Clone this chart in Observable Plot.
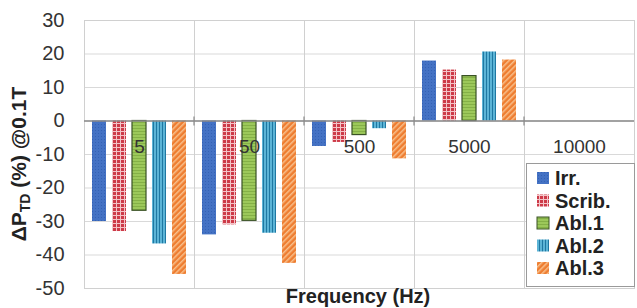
<!DOCTYPE html>
<html>
<head>
<meta charset="utf-8">
<script src="https://cdn.jsdelivr.net/npm/d3@7"></script>
<script src="https://cdn.jsdelivr.net/npm/@observablehq/plot@0.6"></script>
<style>
  html, body { margin: 0; padding: 0; background: #fff; }
  #chart { width: 637px; height: 308px; overflow: hidden; }
  svg { font-family: "Liberation Sans", Arial, sans-serif; }
</style>
</head>
<body>
<div id="chart"></div>
<script>
// ---- data ----
const freqs = ["5", "50", "500", "5000", "10000"];
const seriesNames = ["Irr.", "Scrib.", "Abl.1", "Abl.2", "Abl.3"];
const irr   = [-30, -34, -7.6, 17.9, null];
const scrib = [-33, -31, -6.4, 15.2, null];
const abl1  = [-26.8, -29.8, -4.2, 13.4, null];
const abl2  = [-36.7, -33.5, -2.3, 20.6, null];
const abl3  = [-45.8, -42.5, -11.3, 18.2, null];
const yTicks = [-50, -40, -30, -20, -10, 0, 10, 20, 30];
const yTitle = ["ΔP", "TD", " (%) @0.1T"];
const xTitle = "Frequency (Hz)";

const seriesValues = [irr, scrib, abl1, abl2, abl3];
const patternIds = ["pIrr", "pScrib", "pAbl1", "pAbl2", "pAbl3"];
const rows = [];
freqs.forEach((f, i) => seriesNames.forEach((s, j) => {
  const v = seriesValues[j][i];
  if (v != null) rows.push({freq: f, series: s, value: v});
}));

const plot = Plot.plot({
  width: 637,
  height: 308,
  marginLeft: 83,
  marginRight: 2,
  marginTop: 20,
  marginBottom: 20,
  style: {fontFamily: "Liberation Sans, Arial, sans-serif", fontSize: "20px", color: "#333"},
  fx: {domain: freqs, padding: 0, axis: null, label: null},
  x: {domain: seriesNames, paddingInner: 0.28, paddingOuter: 0.31, axis: null},
  y: {domain: [-50, 30], ticks: yTicks, tickSize: 0, tickPadding: 20, label: null, tickFormat: d => String(d)},
  color: {type: "ordinal", domain: seriesNames, range: patternIds.map(id => `url(#${id})`)},
  marks: [
    Plot.ruleY(yTicks, {stroke: "#d9d9d9", strokeWidth: 1}),
    Plot.frame({stroke: "#d0d0d0", strokeWidth: 1}),
    Plot.barY(rows, {fx: "freq", x: "series", y: "value", fill: "series"}),
    Plot.barY(rows.filter(d => d.series === "Abl.1"), {fx: "freq", x: "series", y: "value", fill: "none", stroke: "#3a5226", strokeWidth: 1.2}),
    Plot.ruleY([0], {stroke: "#8a8a8a", strokeWidth: 1.5}),
    Plot.text(freqs, {fx: d => d, y: 0, text: d => d, dy: 26, fill: "#333", fontSize: 19})
  ]
});

document.getElementById("chart").appendChild(plot);
const svg = d3.select(plot);

// ---- patterns ----
const defs = svg.insert("defs", ":first-child");
let p = defs.append("pattern").attr("id", "pIrr").attr("patternUnits", "userSpaceOnUse").attr("width", 3).attr("height", 3);
p.append("rect").attr("width", 3).attr("height", 3).attr("fill", "#4472c4");
p.append("rect").attr("x", 1).attr("y", 1).attr("width", 1).attr("height", 1).attr("fill", "#3462b4");

p = defs.append("pattern").attr("id", "pScrib").attr("patternUnits", "userSpaceOnUse").attr("width", 4).attr("height", 4);
p.append("rect").attr("width", 4).attr("height", 4).attr("fill", "#f3c3c7");
p.append("rect").attr("width", 3).attr("height", 3).attr("fill", "#cd3a48");

p = defs.append("pattern").attr("id", "pAbl1").attr("patternUnits", "userSpaceOnUse").attr("width", 4).attr("height", 3);
p.append("rect").attr("width", 4).attr("height", 3).attr("fill", "#9cc85a");
p.append("rect").attr("y", 2).attr("width", 4).attr("height", 1).attr("fill", "#84b046");

p = defs.append("pattern").attr("id", "pAbl2").attr("patternUnits", "userSpaceOnUse").attr("width", 3).attr("height", 4);
p.append("rect").attr("width", 3).attr("height", 4).attr("fill", "#5cb4d6");
p.append("rect").attr("x", 2).attr("width", 1).attr("height", 4).attr("fill", "#1f78a2");

p = defs.append("pattern").attr("id", "pAbl3").attr("patternUnits", "userSpaceOnUse").attr("width", 4).attr("height", 4).attr("patternTransform", "rotate(45)");
p.append("rect").attr("width", 4).attr("height", 4).attr("fill", "#ee7d31");
p.append("rect").attr("width", 1.5).attr("height", 4).attr("fill", "#f8c08c");

// ---- small ticks on the zero line at group boundaries ----
const fxS = plot.scale("fx");
const yS = plot.scale("y");
const y0 = yS.apply(0);
const tickG = svg.append("g").attr("stroke", "#8a8a8a").attr("stroke-width", 1.2);
freqs.slice(1).forEach(f => {
  const bx = fxS.apply(f);
  tickG.append("line").attr("x1", bx).attr("x2", bx).attr("y1", y0 - 4).attr("y2", y0 + 5);
});

// ---- axis titles ----
const yt = svg.append("text")
  .attr("transform", "translate(26,164) rotate(-90)")
  .attr("text-anchor", "middle")
  .attr("font-weight", "bold").attr("font-size", 21).attr("fill", "#222");
yt.append("tspan").text(yTitle[0]);
yt.append("tspan").attr("font-size", 14).attr("dy", 4).text(yTitle[1]);
yt.append("tspan").attr("dy", -4).text(yTitle[2]);

svg.append("text")
  .attr("x", 358).attr("y", 303)
  .attr("text-anchor", "middle")
  .attr("font-weight", "bold").attr("font-size", 20).attr("fill", "#222")
  .text(xTitle);

// ---- legend ----
const lg = svg.append("g").attr("text-anchor", "start");
lg.append("rect").attr("x", 526.5).attr("y", 163.5).attr("width", 108).attr("height", 123)
  .attr("fill", "#fff").attr("stroke", "#9a9a9a");
seriesNames.forEach((s, i) => {
  const by = 185 + i * 22.5;
  lg.append("rect").attr("x", 537).attr("y", by - 13).attr("width", 12).attr("height", 12)
    .attr("fill", `url(#${patternIds[i]})`)
    .attr("stroke", s === "Abl.1" ? "#3a5226" : "none");
  lg.append("text").attr("x", 555).attr("y", by).attr("text-anchor", "start")
    .attr("font-weight", "bold").attr("font-size", 20).attr("fill", "#222").text(s);
});
</script>
</body>
</html>
